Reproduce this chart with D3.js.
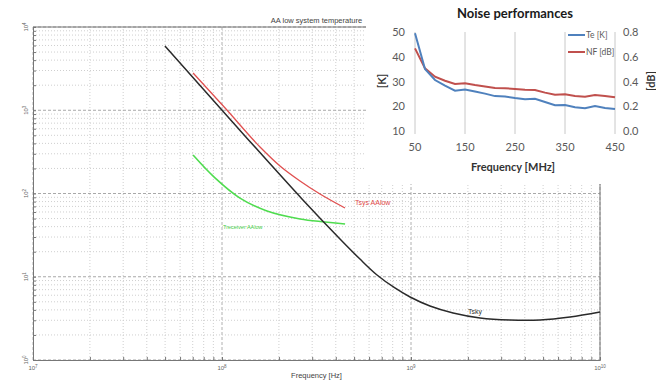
<!DOCTYPE html>
<html>
<head>
<meta charset="utf-8">
<script src="https://cdn.jsdelivr.net/npm/d3@7"></script>
<style>
  html, body { margin: 0; padding: 0; background: #fff; }
  svg { display: block; }
</style>
</head>
<body>
<svg id="chart" width="656" height="383"></svg>
<script>
// ---------- Background chart: AA low system temperature (log-log) ----------
const bigTitle = "AA low system temperature";
const bigXLabel = "Frequency [Hz]";
const bigXTickExps = [7, 8, 9, 10];
const bigYTickExps = [0, 1, 2, 3, 4];

// Tsky curve (Hz, K)
const tskyFreq = [4.99e7, 1.10e8, 2.65e8, 4.21e8, 5.37e8, 6.61e8, 8.22e8, 9.89e8, 1.26e9, 1.67e9, 2.32e9, 3.34e9, 4.82e9, 6.94e9, 1.0e10];
const tskyTemp = [5910, 785, 85.9, 28.4, 16.3, 10.5, 7.33, 5.71, 4.45, 3.67, 3.2, 3.02, 3.02, 3.28, 3.77];

// Tsys AAlow (red)
const tsysFreq = [7.03e7, 1.05e8, 1.589e8, 2.027e8, 2.586e8, 3.30e8, 4.476e8];
const tsysTemp = [2800, 1035, 362, 214, 141.3, 98.6, 67];

// Receiver AAlow (green)
const trcvFreq = [7.03e7, 9.18e7, 1.245e8, 1.73e8, 2.59e8, 3.51e8, 4.48e8];
const trcvTemp = [290, 154, 88, 61.6, 49.4, 45.5, 43];

const curveLabels = ["Tsky", "Tsys AAlow", "Treceiver AAlow"];

// ---------- Inset chart: Noise performances ----------
const insetTitle = "Noise performances";
const insetXLabel = "Frequency [MHz]";
const freqMHz = [50, 70, 90, 110, 130, 150, 170, 190, 210, 230, 250, 270, 290, 310, 330, 350, 370, 390, 410, 430, 450];
const teK = [49.5, 35.0, 30.6, 28.3, 26.3, 26.8, 26.0, 25.1, 24.1, 23.9, 23.3, 22.8, 23.0, 21.7, 20.4, 20.5, 19.6, 19.2, 20.1, 19.3, 18.9];
const nfDb = [0.668, 0.506, 0.439, 0.406, 0.380, 0.385, 0.371, 0.360, 0.347, 0.345, 0.340, 0.334, 0.332, 0.310, 0.293, 0.296, 0.283, 0.277, 0.290, 0.283, 0.272];
const insetXTicks = [50, 150, 250, 350, 450];
const insetLeftTicks = [10, 20, 30, 40, 50];
const insetRightTicks = [0.0, 0.2, 0.4, 0.6, 0.8];
const seriesNames = ["Te [K]", "NF [dB]"];

const svg = d3.select("#chart");

// ===== Big chart =====
const bx = d3.scaleLog().domain([1e7, 1e10]).range([33, 600]);
const by = d3.scaleLog().domain([1, 1e4]).range([360, 27]);

const big = svg.append("g");

// grid values
const xGrid = [], yGrid = [];
for (let e = 7; e < 10; e++) for (let k = 1; k <= 9; k++) xGrid.push({v: k * Math.pow(10, e), major: k === 1});
xGrid.push({v: 1e10, major: true});
for (let e = 0; e < 4; e++) for (let k = 1; k <= 9; k++) yGrid.push({v: k * Math.pow(10, e), major: k === 1});
yGrid.push({v: 1e4, major: true});

big.append("g").selectAll("line").data(xGrid).join("line")
  .attr("x1", d => bx(d.v)).attr("x2", d => bx(d.v))
  .attr("y1", by(1)).attr("y2", by(1e4))
  .attr("stroke", d => d.major ? "#b0b0b0" : "#cfcfcf")
  .attr("stroke-width", 1)
  .attr("stroke-dasharray", d => d.major ? "3,2" : "1,2");

big.append("g").selectAll("line").data(yGrid).join("line")
  .attr("y1", d => by(d.v)).attr("y2", d => by(d.v))
  .attr("x1", bx(1e7)).attr("x2", bx(1e10))
  .attr("stroke", d => d.major ? "#a8a8a8" : "#cfcfcf")
  .attr("stroke-width", 1)
  .attr("stroke-dasharray", d => d.major ? "3,2" : "1,2");

// axes with inward ticks
big.append("g").attr("transform", `translate(0,${by(1)})`)
  .call(d3.axisBottom(bx).tickValues(xGrid.map(d => d.v)).tickSize(-3).tickFormat(""))
  .call(g => g.selectAll("line").attr("stroke", "#777"))
  .call(g => g.select(".domain").attr("stroke", "#777"));
big.append("g").attr("transform", `translate(${bx(1e7)},0)`)
  .call(d3.axisLeft(by).tickValues(yGrid.map(d => d.v)).tickSize(-3).tickFormat(""))
  .call(g => g.selectAll("line").attr("stroke", "#777"))
  .call(g => g.select(".domain").attr("stroke", "#777"));
big.append("line").attr("x1", bx(1e10)).attr("x2", bx(1e10)).attr("y1", by(1)).attr("y2", by(1e4)).attr("stroke", "#777");
big.append("line").attr("x1", bx(1e7)).attr("x2", bx(1e10)).attr("y1", by(1e4)).attr("y2", by(1e4)).attr("stroke", "#777");

// tick labels
const fBig = "Liberation Sans, Arial, sans-serif";
big.append("g").selectAll("text").data(bigXTickExps).join("text")
  .attr("x", e => bx(Math.pow(10, e))).attr("y", 370)
  .attr("text-anchor", "middle").attr("font-family", fBig).attr("font-size", 6).attr("fill", "#666")
  .each(function(e) {
    const t = d3.select(this);
    t.append("tspan").text("10");
    t.append("tspan").attr("dy", -2.5).attr("font-size", 4.5).text(e);
  });
big.append("g").selectAll("text").data(bigYTickExps).join("text")
  .attr("transform", e => `translate(28,${by(Math.pow(10, e))}) rotate(-90)`)
  .attr("text-anchor", "middle").attr("font-family", fBig).attr("font-size", 6).attr("fill", "#666")
  .each(function(e) {
    const t = d3.select(this);
    t.append("tspan").text("10");
    t.append("tspan").attr("dy", -2.5).attr("font-size", 4.5).text(e);
  });

big.append("text").attr("x", (bx(1e7) + bx(1e10)) / 2).attr("y", 22.5)
  .attr("text-anchor", "middle").attr("font-family", fBig).attr("font-size", 7.5).attr("fill", "#444")
  .text(bigTitle);
big.append("text").attr("x", (bx(1e7) + bx(1e10)) / 2).attr("y", 378)
  .attr("text-anchor", "middle").attr("font-family", fBig).attr("font-size", 7.5).attr("fill", "#444")
  .text(bigXLabel);

// curves
const smoothLine = d3.line().x(d => bx(d[0])).y(d => by(d[1])).curve(d3.curveCatmullRom.alpha(0.5));
const monoLine = d3.line().x(d => bx(d[0])).y(d => by(d[1])).curve(d3.curveMonotoneX);
big.append("path").datum(d3.zip(trcvFreq, trcvTemp)).attr("d", smoothLine)
  .attr("fill", "none").attr("stroke", "#4fdc4f").attr("stroke-width", 1.6);
big.append("path").datum(d3.zip(tsysFreq, tsysTemp)).attr("d", monoLine)
  .attr("fill", "none").attr("stroke", "#e05050").attr("stroke-width", 1.3);
big.append("path").datum(d3.zip(tskyFreq, tskyTemp)).attr("d", smoothLine)
  .attr("fill", "none").attr("stroke", "#2a2a2a").attr("stroke-width", 1.5);

big.append("text").attr("x", 468).attr("y", 314).attr("font-family", fBig).attr("font-size", 7)
  .attr("fill", "#333").text(curveLabels[0]);
big.append("text").attr("x", 355).attr("y", 205).attr("font-family", fBig).attr("font-size", 7)
  .attr("fill", "#e04848").text(curveLabels[1]);
big.append("text").attr("x", 223).attr("y", 229).attr("font-family", fBig).attr("font-size", 5.5)
  .attr("fill", "#46d046").text(curveLabels[2]);

// ===== Inset =====
const inset = svg.append("g");
inset.append("rect").attr("x", 366).attr("y", 0).attr("width", 290).attr("height", 184).attr("fill", "#fff");

const ix = d3.scaleLinear().domain([50, 450]).range([415, 615]);
const iyL = d3.scaleLinear().domain([10, 50]).range([131, 32]);
const iyR = d3.scaleLinear().domain([0, 0.8]).range([131, 32]);
const fIn = "Lato, 'Open Sans', sans-serif";

inset.append("g").selectAll("line").data(insetXTicks).join("line")
  .attr("x1", d => ix(d)).attr("x2", d => ix(d)).attr("y1", iyL(50)).attr("y2", iyL(10) + 3)
  .attr("stroke", "#c8c8c8").attr("stroke-width", 1);

inset.append("g").selectAll("text").data(insetXTicks).join("text")
  .attr("x", d => ix(d)).attr("y", 151).attr("text-anchor", "middle")
  .attr("font-family", fIn).attr("font-size", 11).attr("fill", "#595959").text(d => d);
inset.append("g").selectAll("text").data(insetLeftTicks).join("text")
  .attr("x", 405).attr("y", d => iyL(d) + 4).attr("text-anchor", "end")
  .attr("font-family", fIn).attr("font-size", 11).attr("fill", "#595959").text(d => d);
inset.append("g").selectAll("text").data(insetRightTicks).join("text")
  .attr("x", 623).attr("y", d => iyR(d) + 4).attr("text-anchor", "start")
  .attr("font-family", fIn).attr("font-size", 11).attr("fill", "#595959").text(d => d.toFixed(1));

inset.append("text").attr("x", 515).attr("y", 17.5).attr("text-anchor", "middle")
  .attr("font-family", fIn).attr("font-weight", "bold").attr("font-size", 13).attr("fill", "#1a1a1a").text(insetTitle);
inset.append("text").attr("x", 513).attr("y", 171).attr("text-anchor", "middle")
  .attr("font-family", fIn).attr("font-weight", "bold").attr("font-size", 11).attr("fill", "#333").text(insetXLabel);
inset.append("text").attr("transform", "translate(386,81) rotate(-90)").attr("text-anchor", "middle")
  .attr("font-family", fIn).attr("font-weight", "bold").attr("font-size", 11).attr("fill", "#333").text("[K]");
inset.append("text").attr("transform", "translate(655,81) rotate(-90)").attr("text-anchor", "middle")
  .attr("font-family", fIn).attr("font-weight", "bold").attr("font-size", 11).attr("fill", "#333").text("[dB]");

const teLine = d3.line().x(d => ix(d[0])).y(d => iyL(d[1]));
const nfLine = d3.line().x(d => ix(d[0])).y(d => iyR(d[1]));
inset.append("path").datum(d3.zip(freqMHz, nfDb)).attr("d", nfLine)
  .attr("fill", "none").attr("stroke", "#c0504d").attr("stroke-width", 2);
inset.append("path").datum(d3.zip(freqMHz, teK)).attr("d", teLine)
  .attr("fill", "none").attr("stroke", "#4f81bd").attr("stroke-width", 2);

// legend
const legColors = ["#4f81bd", "#c0504d"];
const leg = inset.append("g").selectAll("g").data(seriesNames).join("g")
  .attr("transform", (d, i) => `translate(568,${35 + i * 17})`);
leg.append("line").attr("x1", 0).attr("x2", 17).attr("y1", 0).attr("y2", 0)
  .attr("stroke", (d, i) => legColors[i]).attr("stroke-width", 2);
leg.append("text").attr("x", 18).attr("y", 3).attr("font-family", fIn).attr("font-size", 8.5)
  .attr("fill", "#595959").text(d => d);
</script>
</body>
</html>
